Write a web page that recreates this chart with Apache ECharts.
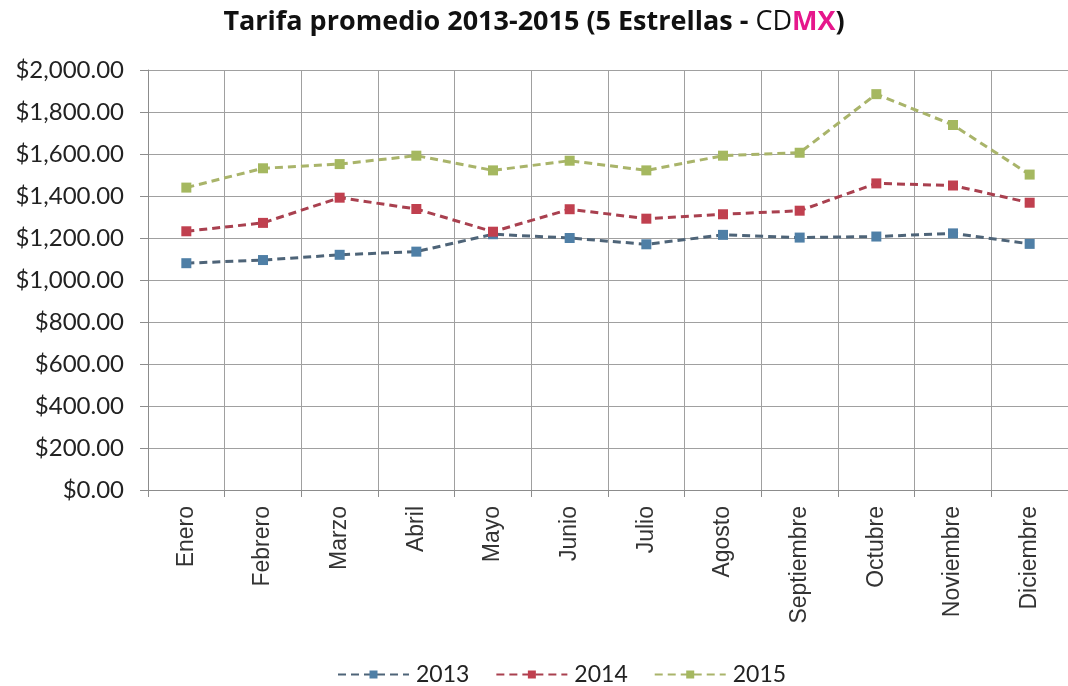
<!DOCTYPE html>
<html>
<head>
<meta charset="utf-8">
<script src="https://cdn.jsdelivr.net/npm/echarts@6/dist/echarts.min.js"></script>
<style>
  html, body { margin: 0; padding: 0; background: #fff; }
  #chart { width: 1068px; height: 686px; }
</style>
</head>
<body>
<div id="chart"></div>
<script>
const meses = ['Enero', 'Febrero', 'Marzo', 'Abril', 'Mayo', 'Junio', 'Julio', 'Agosto', 'Septiembre', 'Octubre', 'Noviembre', 'Diciembre'];
const tarifa2013 = [1080, 1095, 1120, 1135, 1218, 1200, 1170, 1215, 1202, 1207, 1222, 1172];
const tarifa2014 = [1232, 1272, 1392, 1338, 1230, 1337, 1292, 1313, 1330, 1460, 1450, 1368];
const tarifa2015 = [1440, 1532, 1552, 1592, 1522, 1568, 1522, 1592, 1606, 1885, 1738, 1502];

const chart = echarts.init(document.getElementById('chart'));

function serie(name, data, lineColor, markColor) {
  return {
    name: name,
    type: 'line',
    data: data,
    symbol: 'rect',
    symbolSize: 10,
    lineStyle: { color: lineColor, width: 3, type: [8, 5] },
    itemStyle: { color: markColor },
    emphasis: { disabled: true },
    z: 3
  };
}

const option = {
  animation: false,
  backgroundColor: '#fff',
  title: {
    text: '{b|Tarifa promedio 2013-2015 (5 Estrellas - }{n|CD}{m|MX}{b|)}',
    left: 'center',
    top: 4,
    textStyle: {
      rich: {
        b: { fontFamily: 'Open Sans', fontWeight: 'bold', fontSize: 27, color: '#111' },
        n: { fontFamily: 'Open Sans', fontWeight: 'normal', fontSize: 27, color: '#111' },
        m: { fontFamily: 'Open Sans', fontWeight: 'bold', fontSize: 27, color: '#e6178c' }
      }
    }
  },
  legend: {
    bottom: 0,
    left: 337,
    padding: 0,
    itemWidth: 71,
    itemHeight: 10,
    itemGap: 26,
    textStyle: { fontFamily: 'Lato', fontSize: 23, color: '#222', padding: [0, 0, 0, 2] },
    data: ['2013', '2014', '2015']
  },
  grid: { left: 148, right: -17, top: 70, bottom: 196 },
  xAxis: {
    type: 'category',
    data: meses,
    boundaryGap: true,
    axisLine: { lineStyle: { color: '#8c8c8c', width: 1 } },
    axisTick: { show: true, length: 7, lineStyle: { color: '#8c8c8c' } },
    splitLine: { show: true, interval: 0, lineStyle: { color: '#a0a0a0', width: 1 } },
    axisLabel: {
      rotate: 90,
      interval: 0,
      margin: 16,
      fontFamily: 'Liberation Sans',
      fontSize: 23,
      color: '#333'
    }
  },
  yAxis: {
    type: 'value',
    min: 0,
    max: 2000,
    interval: 200,
    axisLine: { show: true, lineStyle: { color: '#8c8c8c' } },
    axisTick: { show: true, length: 8, lineStyle: { color: '#8c8c8c' } },
    splitLine: { lineStyle: { color: '#a0a0a0', width: 1 } },
    axisLabel: {
      margin: 24,
      fontFamily: 'Lato',
      fontSize: 24,
      color: '#222',
      formatter: function (v) {
        return '$' + v.toLocaleString('en-US', { minimumFractionDigits: 2, maximumFractionDigits: 2 });
      }
    }
  },
  series: [
    serie('2013', tarifa2013, '#4e6478', '#4f7fa6'),
    serie('2014', tarifa2014, '#a9404f', '#c0404f'),
    serie('2015', tarifa2015, '#a9b46a', '#a5b860')
  ]
};

chart.setOption(option);
</script>
</body>
</html>
